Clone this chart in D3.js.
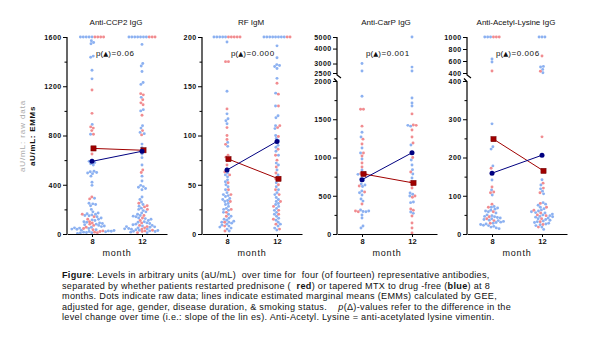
<!DOCTYPE html>
<html>
<head>
<meta charset="utf-8">
<script src="https://cdn.jsdelivr.net/npm/d3@7"></script>
<style>
  body { margin: 0; background: #fff; }
  svg { font-family: "Liberation Sans", Arial, sans-serif; }
</style>
</head>
<body>
<div id="chart"></div>
<script>
// month labels and panel titles
const months = ["8", "12"];
const titles = ["Anti-CCP2 IgG", "RF IgM", "Anti-CarP IgG", "Anti-Acetyl-Lysine IgG"];
const pLabels = ["0.06", "0.000", "0.001", "0.006"];

// raw values, [month 8, month 12]; values at the axis cap are saturated
const ccpRed = [
  [1600,1600,1600,1600,1170,980,870,860,840,810,650,300,285,160,140,120,100,90,80,70,55,45,35,25,20,15,10],
  [1600,1600,1600,1140,1130,1090,1065,1050,965,840,805,520,500,250,230,220,200,150,130,110,90,70,60,50,40,30,25,20,10]
];
const ccpBlue = [
  [1600,1600,1600,1600,1600,1570,1555,1545,1445,1435,1330,1260,890,810,600,590,580,570,560,510,505,500,495,490,470,420,395,
   290,250,245,240,230,200,180,170,165,160,155,150,148,140,130,120,115,110,100,95,90,85,80,75,70,65,60,55,50,48,45,40,38,35,
   30,28,25,22,20,18,15,12,10,8,5],
  [1600,1600,1600,1600,1600,1600,1600,1540,1385,1365,1320,1230,1215,1110,1010,1000,880,860,825,815,730,700,650,620,560,470,430,
   395,385,380,370,360,300,280,260,240,225,210,200,190,180,170,160,150,145,140,130,125,120,110,100,95,90,85,80,75,70,65,60,58,
   55,50,45,42,40,38,35,30,28,25,22,20,15,10]
];
const rfRed = [
  [200,200,200,200,200,175,175,127,108,100,96,91,80,78,70,63,60,52,45,40,33,25,22,18,12,8,3],
  [200,200,153,142,130,110,108,99,86,80,75,68,62,56,50,45,40,33,28,24,20,15,10,5]
];
const rfBlue = [
  [200,200,200,200,200,195,145,122,117,115,112,93,89,75,66,62,60,58,55,53,50,48,45,42,40,39,38,36,35,34,33,31,30,28,26,25,24,
   22,20,18,16,15,14,13,12,12,11,10,9,8,7,6,5,3],
  [200,200,200,200,200,200,200,200,191,179,172,171,170,168,158,143,130,120,118,110,107,100,97,95,93,90,88,84,80,72,70,65,60,55,
   52,48,45,42,40,37,35,33,31,30,28,26,24,22,20,18,16,14,12,10,8,6,4]
];
const carpRed = [
  [1630,1630,1410,1240,1176,1059,1020,928,876,790,784,627,549,392,300,290],
  [1570,1425,1420,1359,1268,1189,1000,810,680,640,601,497,480,327,310,235,144,78,13]
];
const carpBlue = [
  [3000,2600,1800,1330,1268,1124,1059,980,837,780,770,719,700,654,640,620,562,540,510,458,430,314,300,295,290,248,209,105,78],
  [5000,2800,2600,1778,1712,1673,1420,1410,1163,967,902,840,784,732,680,536,520,497,418,410,288,270]
];
const acetRed = [
  [1000,1000,1000,433,172,123,110,108,78,70,58,45,40,35,28],
  [683,430,254,133,120,108,80,70,62,55,50,48,40,32,25,18]
];
const acetBlue = [
  [1000,1000,1000,633,583,288,228,222,178,141,115,102,72,70,68,65,62,60,58,55,50,48,46,45,43,42,40,38,36,35,33,31,30,28,26,25,
   23,22,20,18,16,14],
  [1000,1000,1000,510,500,460,405,142,128,118,112,105,82,78,75,70,66,63,60,58,56,55,52,50,48,46,45,44,42,40,38,36,34,32,30,28,
   26,24,22,18,12]
];

// estimated marginal means, [month 8, month 12]
const emmRed = [[695, 680], [76, 56], [785, 667], [248, 165]];
const emmBlue = [[590, 672], [65, 94], [710, 1062], [159, 206]];

// axis ticks
const ccpTicks = [0, 400, 800, 1200, 1600];
const rfTicks = [0, 50, 100, 150, 200];
const carpTicks = [0, 500, 1000, 1500, 2000];
const carpUpperTicks = [2500, 3000, 4000, 5000];
const acetTicks = [0, 100, 200, 300, 400];
const acetUpperTicks = [400, 600, 800, 1000];

const W = 602, H = 349;
const yTop = 37, yBottom = 234;
const redDot = "#ef8084", blueDot = "#7fa9ef";
const redEmm = "#a00000", blueEmm = "#000080";

const svg = d3.select("#chart").append("svg")
  .attr("width", W).attr("height", H);

const panels = [
  { x0: 67,  red: ccpRed,  blue: ccpBlue,  ticks: ccpTicks,  max: 1600 },
  { x0: 202, red: rfRed,   blue: rfBlue,   ticks: rfTicks,   max: 200 },
  { x0: 337, red: carpRed, blue: carpBlue, ticks: carpTicks, max: 2000, upperTicks: carpUpperTicks, log: true },
  { x0: 467, red: acetRed, blue: acetBlue, ticks: acetTicks, max: 400,  upperTicks: acetUpperTicks }
];

panels.forEach((p, i) => {
  const g = svg.append("g");
  const broken = !!p.upperTicks;

  const x = d3.scalePoint().domain(months).range([p.x0, p.x0 + 100]).padding(0.5);
  const yLow = d3.scaleLinear().domain([0, p.max]).range([yBottom, broken ? 81 : yTop]);
  let yUp = null;
  if (broken) {
    yUp = (p.log ? d3.scaleLog() : d3.scaleLinear())
      .domain(d3.extent(p.upperTicks)).range([73, yTop]).clamp(true);
  }
  const y = v => (yUp && v > p.max) ? yUp(v) : yLow(Math.min(v, p.max));

  // beeswarm columns, one per month
  months.forEach((m, k) => {
    const cx = x(m);
    const nodes = [];
    p.blue[k].forEach(v => nodes.push({ v, c: blueDot, x: cx, fy: y(v) }));
    p.red[k].forEach(v => nodes.push({ v, c: redDot, x: cx, fy: y(v) }));
    const sim = d3.forceSimulation(nodes)
      .force("x", d3.forceX(cx).strength(0.06))
      .force("collide", d3.forceCollide(1.45).iterations(3))
      .stop();
    for (let t = 0; t < 250; t++) sim.tick();

    g.append("g").selectAll("circle").data(nodes).join("circle")
      .attr("cx", d => d.x).attr("cy", d => d.y)
      .attr("r", 1.45)
      .attr("fill", d => d.c)
      .attr("fill-opacity", 0.9);
  });

  // EMM lines
  const line = d3.line().x(d => d[0]).y(d => d[1]);
  const redPts = months.map((m, k) => [x(m) + 1.5, y(emmRed[i][k])]);
  const bluePts = months.map((m, k) => [x(m), y(emmBlue[i][k])]);
  g.append("path").attr("d", line(redPts)).attr("fill", "none")
    .attr("stroke", redEmm).attr("stroke-width", 1);
  g.append("path").attr("d", line(bluePts)).attr("fill", "none")
    .attr("stroke", blueEmm).attr("stroke-width", 1);
  g.selectAll(".sq").data(redPts).join("rect")
    .attr("x", d => d[0] - 2.6).attr("y", d => d[1] - 2.6)
    .attr("width", 5.2).attr("height", 5.2)
    .attr("fill", redEmm).attr("stroke", "#700000").attr("stroke-width", 0.5);
  g.selectAll(".dot").data(bluePts).join("circle")
    .attr("cx", d => d[0]).attr("cy", d => d[1]).attr("r", 2.5)
    .attr("fill", blueEmm);

  // y axis (lower part or whole)
  const minorLow = d3.range(p.ticks[1] / 2, p.max, p.ticks[1]);
  const styleAxis = sel => {
    sel.attr("font-family", null).attr("font-size", null);
    sel.selectAll("text").style("font-size", "7px").style("font-weight", "bold")
      .style("letter-spacing", "0.4px").attr("fill", "#111");
    sel.selectAll("line").attr("stroke", "#000").attr("stroke-width", 1);
  };
  const ax = g.append("g").attr("transform", `translate(${p.x0},0)`);
  ax.append("g").call(d3.axisLeft(yLow).tickValues(p.ticks).tickSize(4).tickSizeOuter(0).tickPadding(1.5)
      .tickFormat(d3.format("d")))
    .call(styleAxis).select(".domain").remove();
  ax.append("g").call(d3.axisLeft(yLow).tickValues(minorLow).tickSize(2.5).tickFormat(""))
    .call(styleAxis).select(".domain").remove();
  if (broken) {
    ax.append("g").call(d3.axisLeft(yUp).tickValues(p.upperTicks).tickSize(4).tickPadding(1.5)
        .tickFormat(d3.format("d")))
      .call(styleAxis).select(".domain").remove();
    ax.append("path").attr("d", `M0,${yTop}V75l4,3`).attr("fill", "none")
      .attr("stroke", "#000").attr("stroke-width", 1.2);
    ax.append("path").attr("d", `M-3,78.5L0,81.5V${yBottom}`).attr("fill", "none")
      .attr("stroke", "#000").attr("stroke-width", 1.2);
  } else {
    ax.append("path").attr("d", `M0,${yTop}V${yBottom}`).attr("fill", "none")
      .attr("stroke", "#000").attr("stroke-width", 1.2);
  }

  // x axis
  const xg = g.append("g").attr("transform", `translate(0,${yBottom})`)
    .call(d3.axisBottom(x).tickSize(3).tickSizeOuter(0).tickPadding(2));
  xg.attr("font-family", null).attr("font-size", null);
  xg.select(".domain").attr("stroke-width", 1.2);
  xg.selectAll("text").style("font-size", "7.5px").style("font-weight", "bold").attr("fill", "#111");

  g.append("text").attr("x", p.x0 + 50).attr("y", 256).attr("text-anchor", "middle")
    .style("font-size", "9px").style("letter-spacing", "0.8px").attr("fill", "#111").text("month");

  // title and p-value
  g.append("text").attr("x", p.x0 + 49).attr("y", 25).attr("text-anchor", "middle")
    .style("font-size", "8px").attr("fill", "#111").text(titles[i]);
  const pt = g.append("text").attr("x", p.x0 + 29).attr("y", 56)
    .style("font-size", "8px").attr("fill", "#111");
  pt.append("tspan").text("p(");
  pt.append("tspan").style("font-size", "6.5px").attr("font-family", "DejaVu Sans").text("▲");
  pt.append("tspan").style("letter-spacing", "0.6px").text(")=" + pLabels[i]);
});

// y axis titles
svg.append("text").attr("transform", "translate(25,136) rotate(-90)")
  .attr("text-anchor", "middle").style("font-size", "8px").style("letter-spacing", "0.9px")
  .attr("fill", "#a8a8a8").text("aU/mL: raw data");
svg.append("text").attr("transform", "translate(35,136) rotate(-90)")
  .attr("text-anchor", "middle").style("font-size", "8px").style("font-weight", "bold")
  .style("letter-spacing", "0.7px").attr("fill", "#111").text("aU/mL: EMMs");

// caption
const caption = [
  [["Figure", "b"], [": Levels in arbitrary units (aU/mL)  over time for  four (of fourteen) representative antibodies,"]],
  [["separated by whether patients restarted prednisone (  "], ["red", "b"], [") or tapered MTX to drug -free ("], ["blue", "b"], [") at 8"]],
  [["months. Dots indicate raw data; lines indicate estimated marginal means (EMMs) calculated by GEE,"]],
  [["adjusted for age, gender, disease duration, & smoking status.    "], ["p", "i"], ["(Δ)-values refer to the difference in the"]],
  [["level change over time (i.e.: slope of the lin es). Anti-Acetyl. Lysine = anti-acetylated lysine vimentin."]]
];
const cap = svg.append("g").style("font-size", "9.1px").style("letter-spacing", "0.3px").attr("fill", "#111");
caption.forEach((parts, li) => {
  const t = cap.append("text").attr("x", 62).attr("y", 278 + li * 10.6).style("white-space", "pre");
  parts.forEach(([s, f]) => {
    const ts = t.append("tspan").text(s);
    if (f === "b") ts.style("font-weight", "bold");
    if (f === "i") ts.style("font-style", "italic");
  });
});
</script>
</body>
</html>
